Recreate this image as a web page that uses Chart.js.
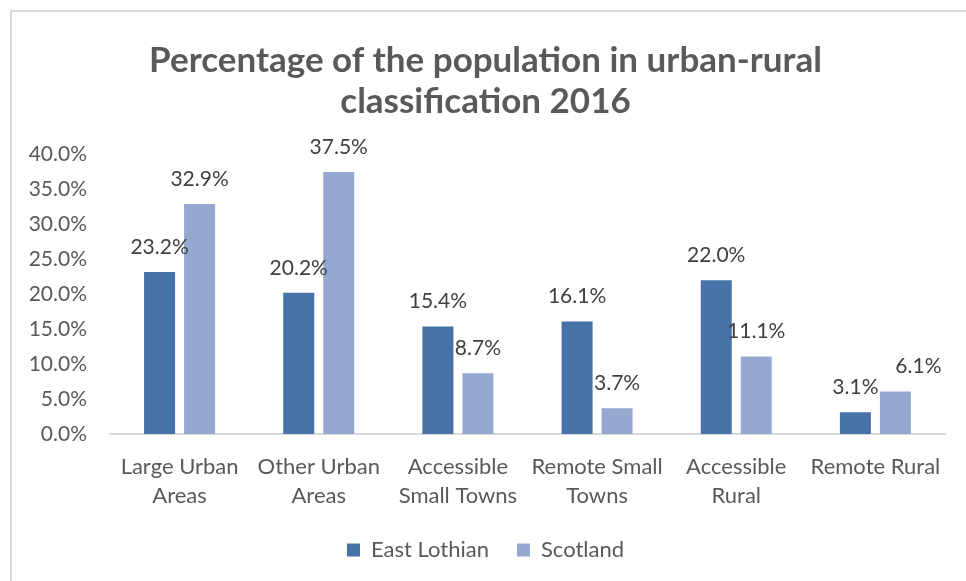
<!DOCTYPE html>
<html>
<head>
<meta charset="utf-8">
<script src="https://cdn.jsdelivr.net/npm/chart.js@4"></script>
<style>
  html, body { margin: 0; padding: 0; background: #fff; overflow: hidden; }
  #frame { position: absolute; left: 10px; top: 10px; width: 1000px; height: 1000px;
           border-top: 2px solid #d9d9d9; border-left: 2px solid #d9d9d9; }
  #wrap { position: absolute; left: 0; top: 0; width: 966px; height: 581px; }
</style>
</head>
<body>
<div id="frame"></div>
<div id="wrap"><canvas id="chart"></canvas></div>
<script>
const categories = [
  ['Large Urban', 'Areas'],
  ['Other Urban', 'Areas'],
  ['Accessible', 'Small Towns'],
  ['Remote Small', 'Towns'],
  ['Accessible', 'Rural'],
  ['Remote Rural']
];
const eastLothian = [23.2, 20.2, 15.4, 16.1, 22.0, 3.1];
const scotland = [32.9, 37.5, 8.7, 3.7, 11.1, 6.1];
const seriesNames = ['East Lothian', 'Scotland'];

const textColor = '#595959';
const fontFamily = 'Lato, "Open Sans", sans-serif';

// draws the value above each bar, like Excel data labels
const barLabels = {
  id: 'barLabels',
  afterDatasetsDraw(chart, args, opts) {
    const ctx = chart.ctx;
    ctx.save();
    ctx.font = '21px ' + fontFamily;
    ctx.fillStyle = '#404040';
    ctx.textAlign = 'center';
    ctx.textBaseline = 'middle';
    chart.data.datasets.forEach((ds, di) => {
      const meta = chart.getDatasetMeta(di);
      meta.data.forEach((bar, i) => {
        const shift = (opts.shift && opts.shift[di + '-' + i]) || 0;
        ctx.fillText(ds.data[i].toFixed(1) + '%', bar.x + shift, bar.y - 25);
      });
    });
    ctx.restore();
  }
};

new Chart(document.getElementById('chart'), {
  type: 'bar',
  data: {
    labels: categories,
    datasets: [
      { label: seriesNames[0], data: eastLothian, backgroundColor: '#4672a8' },
      { label: seriesNames[1], data: scotland, backgroundColor: '#95a9d0' }
    ]
  },
  options: {
    responsive: true,
    maintainAspectRatio: false,
    animation: false,
    categoryPercentage: 0.575,
    barPercentage: 0.775,
    layout: { padding: { top: 10, right: 21, bottom: 10, left: 26 } },
    plugins: {
      title: {
        display: true,
        text: ['Percentage of the population in urban-rural', 'classification 2016'],
        color: textColor,
        font: { family: fontFamily, size: 35, weight: 'bold', lineHeight: 1.15 },
        padding: { top: 31, bottom: 33 }
      },
      legend: {
        position: 'bottom',
        labels: {
          color: textColor,
          font: { family: fontFamily, size: 22 },
          boxWidth: 13,
          boxHeight: 13,
          padding: 28
        }
      },
      tooltip: { enabled: false },
      barLabels: { shift: { '1-5': 23 } }
    },
    scales: {
      x: {
        grid: { display: false, drawTicks: false },
        border: { display: true, color: '#d9d9d9', width: 2 },
        ticks: {
          color: textColor,
          font: { family: fontFamily, size: 22, lineHeight: 1.32 },
          padding: 18,
          maxRotation: 0,
          autoSkip: false
        },
        afterFit(scale) { scale.height = 77; }
      },
      y: {
        min: 0,
        max: 40,
        grid: { display: false, drawTicks: false },
        border: { display: false },
        ticks: {
          stepSize: 5,
          color: textColor,
          font: { family: fontFamily, size: 21 },
          padding: 23,
          callback: v => v.toFixed(1) + '%'
        },
        afterFit(scale) { scale.width = 84; }
      }
    }
  },
  plugins: [barLabels]
});
</script>
</body>
</html>
